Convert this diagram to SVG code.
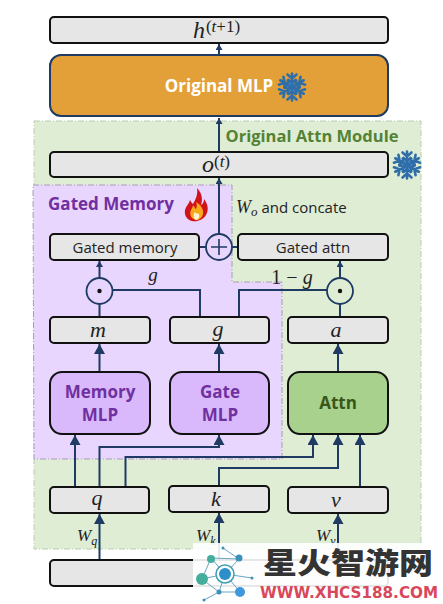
<svg xmlns="http://www.w3.org/2000/svg" xmlns:xlink="http://www.w3.org/1999/xlink" width="443" height="604" viewBox="0 0 443 604">
<style>
.box{fill:#e6e6e6;stroke:#111;stroke-width:2}
.pur{fill:#d9b8fc;stroke:#111;stroke-width:2}
.t{font-family:"Open Sans","Noto Sans",sans-serif;font-size:15px;fill:#222;text-anchor:middle}
.b{font-weight:700}
.m{font-family:"Liberation Serif",serif;font-style:italic;font-size:22px;fill:#222;text-anchor:middle}
.w{font-family:"Liberation Serif",serif;font-style:italic;font-size:17px;fill:#222}
.c{fill:none;stroke:#1f3a63;stroke-width:2}
.op{fill:#e8d5fd;stroke:#1f3a63;stroke-width:1.8}
.flake{stroke:#2f6ea8;stroke-width:2.600;fill:none;stroke-linecap:round}
</style>
<defs>
<marker id="a" markerUnits="userSpaceOnUse" markerWidth="11" markerHeight="11" refX="10" refY="5.500" orient="auto"><path d="M0 0L10 5.500L0 11Z" fill="#1f3a63"/></marker>
<marker id="s" markerUnits="userSpaceOnUse" markerWidth="7" markerHeight="7" refX="6" refY="3.500" orient="auto"><path d="M0 0L6 3.500L0 7Z" fill="#1f3a63"/></marker>
<g id="flk">
<circle r="4.500" fill="#4a90d9" stroke="none"/>
<g class="flake"><path id="arm" d="M0 0V-13.500M-4.500 -12.500L0 -8.500L4.500 -12.500M-3.500 -7L0 -4L3.500 -7"/>
<use xlink:href="#arm" transform="rotate(60)"/><use xlink:href="#arm" transform="rotate(120)"/><use xlink:href="#arm" transform="rotate(180)"/><use xlink:href="#arm" transform="rotate(240)"/><use xlink:href="#arm" transform="rotate(300)"/></g>
</g>
</defs>
<rect width="443" height="604" fill="#fff"/>

<g id="region-attn">
<rect x="34" y="121" width="387" height="428" fill="#deedd4" stroke="#b9cdb0" stroke-width="1" stroke-dasharray="6 2 1 2"/>
<text x="312" y="142" class="t b" style="font-size:16.500px;fill:#548235">Original Attn Module</text>
</g>
<g id="region-memory">
<path d="M33 185H232V282H282V459H34Z" fill="#e9d6fe" stroke="#a99ab8" stroke-width="1" stroke-dasharray="6 2 1 2"/>
<text x="111" y="210" class="t b" style="font-size:17px;fill:#7030a0">Gated Memory</text>
</g>

<g id="connectors">
<path class="c" d="M219 55V44" marker-end="url(#s)"/>
<path class="c" d="M219 152V118" marker-end="url(#s)"/>
<path class="c" d="M219 234V178" marker-end="url(#s)"/>
<path class="c" d="M199 247H206M232 247H238"/>
<path class="c" d="M99.500 278V261" marker-end="url(#s)"/>
<path class="c" d="M340 278V261" marker-end="url(#s)"/>
<path class="c" d="M99.500 317V304M340 317V304"/>
<path class="c" d="M112.500 290H200V317"/>
<path class="c" d="M327 290H239V317"/>
<path class="c" d="M99.500 372V344" marker-end="url(#a)"/>
<path class="c" d="M219 372V344" marker-end="url(#a)"/>
<path class="c" d="M338 372V344" marker-end="url(#a)"/>
<path class="c" d="M75 487V435" marker-end="url(#a)"/>
<path class="c" d="M99.500 487V447H219V435" marker-end="url(#a)"/>
<path class="c" d="M125.500 487V457H313V435" marker-end="url(#a)"/>
<path class="c" d="M219 486V468H338V435" marker-end="url(#a)"/>
<path class="c" d="M360 487V435" marker-end="url(#a)"/>
<path class="c" d="M99.500 560V514" marker-end="url(#a)"/>
<path class="c" d="M219 560V513" marker-end="url(#a)"/>
<path class="c" d="M338 560V514" marker-end="url(#a)"/>
</g>

<g id="node-h"><rect class="box" x="50" y="17" width="338" height="26" rx="4"/><text class="m" x="199" y="38" style="font-size:24px">h</text><text class="m" x="223" y="32" style="font-size:17px;font-style:normal">(<tspan font-style="italic">t</tspan>+1)</text></g>
<g id="node-original-mlp"><rect x="50" y="55" width="338" height="61" rx="11" fill="#e3a038" stroke="#1f3a63" stroke-width="2"/><text x="219" y="92" class="t b" style="font-size:17px;fill:#fff">Original MLP</text><use xlink:href="#flk" transform="translate(292 87)"/></g>
<g id="node-o"><rect class="box" x="50" y="152" width="338" height="25" rx="4"/><text class="m" x="208" y="172" style="font-size:24px">o</text><text class="m" x="222" y="167" style="font-size:17px;font-style:normal">(<tspan font-style="italic">t</tspan>)</text></g>
<use id="snow-attn" xlink:href="#flk" transform="translate(407 165)"/>
<g id="flame"><path d="M197 188C202 193 203 199 201 205C203 204 204 202 204 199C208 204 209 210 206 215C203 220 197 222 192 221C187 220 184 215 185 210C186 206 189 204 190 200C191 202 192 203 193 204C196 199 198 194 197 188Z" fill="#d0121b"/><path d="M196 220C191 219 189 214 191 210C192 208 193 207 193 205C195 207 195 209 196 209C197 206 197 204 196 202C200 204 204 209 203 214C202 218 199 220 196 220Z" fill="#f7a81b"/><path d="M196 220C193 218 193 215 195 212C196 214 197 214 198 213C200 215 200 219 196 220Z" fill="#fff4cf"/></g>
<text x="236" y="213" style="font-family:'Open Sans','Noto Sans',sans-serif;font-size:15px;fill:#222"><tspan style="font-family:'Liberation Serif',serif;font-style:italic;font-size:18px">W</tspan><tspan dy="3" style="font-family:'Liberation Serif',serif;font-style:italic;font-size:13px">o</tspan><tspan dy="-3"> and concate</tspan></text>
<g id="node-gated-memory"><rect class="box" x="50" y="234" width="149" height="26" rx="4"/><text class="t" x="125" y="253">Gated memory</text></g>
<g id="node-plus"><circle class="op" cx="219" cy="247" r="13"/><path d="M211 247H227M219 239V255" stroke="#1f3a63" stroke-width="1.600"/></g>
<g id="node-gated-attn"><rect class="box" x="238" y="234" width="150" height="26" rx="4"/><text class="t" x="313" y="253">Gated attn</text></g>
<g id="node-odot-left"><circle class="op" cx="99.500" cy="291" r="13"/><circle cx="99.500" cy="291" r="2.200" fill="#111"/></g>
<g id="node-odot-right"><circle cx="340" cy="291" r="13" fill="#deedd4" stroke="#1f3a63" stroke-width="1.800"/><circle cx="340" cy="291" r="2.200" fill="#111"/></g>
<text class="m" x="153" y="281" style="font-size:19px">g</text>
<text class="m" x="292" y="284" style="font-size:20px"><tspan style="font-style:normal">1 − </tspan>g</text>
<g id="node-m"><rect class="box" x="50" y="317" width="100" height="26" rx="4"/><text class="m" x="98" y="337">m</text></g>
<g id="node-g"><rect class="box" x="170" y="317" width="99" height="26" rx="4"/><text class="m" x="218" y="336">g</text></g>
<g id="node-a"><rect class="box" x="288" y="317" width="100" height="26" rx="4"/><text class="m" x="336" y="337">a</text></g>
<g id="node-memory-mlp"><rect class="pur" x="50" y="372" width="100" height="62" rx="12"/><text class="t b" x="100" y="398" style="font-size:17px;fill:#7030a0">Memory</text><text class="t b" x="100" y="421" style="font-size:17px;fill:#7030a0">MLP</text></g>
<g id="node-gate-mlp"><rect class="pur" x="170" y="372" width="99" height="62" rx="12"/><text class="t b" x="220" y="398" style="font-size:17px;fill:#7030a0">Gate</text><text class="t b" x="220" y="421" style="font-size:17px;fill:#7030a0">MLP</text></g>
<g id="node-attn"><rect x="288" y="372" width="100" height="62" rx="12" fill="#a9d18e" stroke="#111" stroke-width="2"/><text class="t b" x="338" y="409" style="font-size:17px;fill:#38571a">Attn</text></g>
<g id="node-q"><rect class="box" x="50" y="487" width="99" height="26" rx="4"/><text class="m" x="97" y="505">q</text></g>
<g id="node-k"><rect class="box" x="169" y="486" width="100" height="26" rx="4"/><text class="m" x="216" y="506">k</text></g>
<g id="node-v"><rect class="box" x="288" y="487" width="100" height="26" rx="4"/><text class="m" x="336" y="507">v</text></g>
<g id="node-input"><rect class="box" x="50" y="560" width="338" height="26" rx="4"/></g>
<text class="w" x="77" y="541">W<tspan dy="4" style="font-size:12px">q</tspan></text>
<text class="w" x="196" y="541">W<tspan dy="4" style="font-size:12px">k</tspan></text>
<text class="w" x="316" y="541">W<tspan dy="4" style="font-size:12px">v</tspan></text>

<g id="watermark">
<rect x="193" y="543" width="250" height="61" fill="#fff" fill-opacity=".9"/>
<g stroke="#6ba5c4" stroke-width="1" fill="none"><path d="M223 548L239 559L225 574L211 558L239 559M225 574L202 579L211 558M225 574L252 578M225 574L219 592L240 592L225 574M219 592L204 600M202 579L219 592"/></g>
<circle cx="223" cy="548" r="1.500" fill="#3a92b8"/><circle cx="211" cy="559" r="4" fill="#45ad9c"/><circle cx="239" cy="558" r="3.500" fill="#3a92b8"/><circle cx="202" cy="579" r="6" fill="#45ad9c"/><circle cx="240" cy="592" r="5" fill="#3f97dc"/><circle cx="219" cy="592" r="2.500" fill="#3a92b8"/><circle cx="204" cy="600" r="1.500" fill="#3a92b8"/><circle cx="252" cy="578" r="1.500" fill="#3a92b8"/>
<circle cx="225" cy="574" r="9" fill="#fff" stroke="#3d9fb0" stroke-width="1.500"/><circle cx="225" cy="574" r="6" fill="#2b8fc9"/>
<text x="263" y="574" style="font-family:'Noto Sans CJK SC',sans-serif;font-weight:900;font-size:29px;fill:#333" textLength="170" lengthAdjust="spacingAndGlyphs">星火智游网</text>
<text x="260" y="598" style="font-family:'DejaVu Sans',sans-serif;font-weight:700;font-size:15px;fill:#d9475b" textLength="178" lengthAdjust="spacingAndGlyphs">WWW.XHCS188.COM</text>
</g>
</svg>
